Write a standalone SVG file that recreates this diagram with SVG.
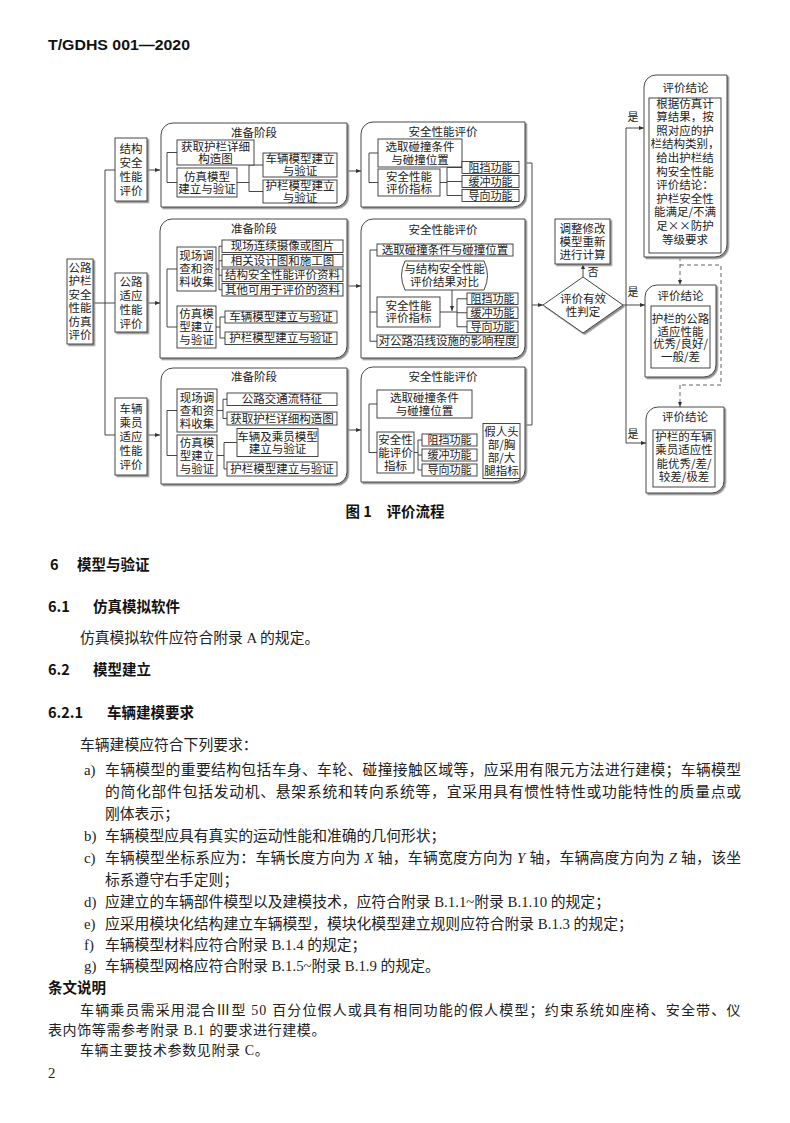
<svg xmlns="http://www.w3.org/2000/svg" width="790" height="1123" viewBox="0 0 790 1123">
<defs>
<style>
.bx{fill:#fff;stroke:#333;stroke-width:0.9;filter:url(#sh)}
.ib{fill:#fff;stroke:#333;stroke-width:0.9}
.t{font-family:"Noto Sans CJK SC",sans-serif;font-size:11.5px;fill:#222;text-anchor:middle}
.s{font-size:11px}
.c{fill:none;stroke:#333;stroke-width:0.9}
.a{fill:none;stroke:#333;stroke-width:0.9;marker-end:url(#ar)}
.d{fill:none;stroke:#555;stroke-width:0.9;stroke-dasharray:4 3}
.da{fill:none;stroke:#555;stroke-width:0.9;stroke-dasharray:4 3;marker-end:url(#ar)}
.h{font-family:"Noto Sans CJK SC",sans-serif;font-weight:bold;font-size:14.5px;fill:#111}
.b{font-family:"Liberation Serif","Noto Sans CJK SC",serif;font-size:14.8px;fill:#222}
.n{font-size:14px;letter-spacing:0.6px}
</style>
<filter id="sh" x="-10%" y="-10%" width="130%" height="130%">
<feDropShadow dx="1.6" dy="1.6" stdDeviation="0" flood-color="#8a8a8a" flood-opacity="1"/>
</filter>
<marker id="ar" viewBox="0 0 10 10" refX="10" refY="5" markerWidth="6" markerHeight="6" orient="auto">
<path d="M0,1 L10,5 L0,9 z" fill="#333"/>
</marker>
</defs>
<rect width="790" height="1123" fill="#fff"/>
<text x="48" y="50" font-family="Liberation Sans" font-weight="bold" font-size="14.5" fill="#111" textLength="142" lengthAdjust="spacingAndGlyphs">T/GDHS 001—2020</text>

<g id="connectors">
<path class="c" d="M93,303 H115 M105,170 V435 M105,170 H115 M105,435 H115"/>
<path class="a" d="M147,170 H160"/>
<path class="a" d="M147,303 H160"/>
<path class="a" d="M147,435 H160"/>
<path class="a" d="M347,171 H361"/>
<path class="a" d="M347,286 H361"/>
<path class="a" d="M347,430 H361"/>
<path class="c" d="M525,163 H532 V425 H525"/>
<path class="a" d="M532,305 H543"/>
<path class="a" d="M583,277 V264"/>
<path class="c" d="M623,305 H626 M626,128 V443"/>
<path class="a" d="M626,128 H644"/>
<path class="a" d="M626,305 H645"/>
<path class="a" d="M626,443 H646"/>
<path class="da" d="M680,257 V285"/>
<path class="d" d="M680,265 H721 V385 H680"/>
<path class="da" d="M680,385 V407"/>
</g>

<g id="n-root">
<rect class="bx" x="67" y="259" width="26" height="85"/>
<text class="t" x="80" y="271.5"><tspan x="80">公路</tspan><tspan x="80" dy="13.5">护栏</tspan><tspan x="80" dy="13.5">安全</tspan><tspan x="80" dy="13.5">性能</tspan><tspan x="80" dy="13.5">仿真</tspan><tspan x="80" dy="13.5">评价</tspan></text>
</g>

<g id="n-a1">
<rect class="bx" x="115" y="138" width="32" height="63"/>
<text class="t" x="131" y="152.5"><tspan x="131">结构</tspan><tspan x="131" dy="14">安全</tspan><tspan x="131" dy="14">性能</tspan><tspan x="131" dy="14">评价</tspan></text>
</g>
<g id="n-a2">
<rect class="bx" x="115" y="273" width="32" height="59"/>
<text class="t" x="131" y="285.5"><tspan x="131">公路</tspan><tspan x="131" dy="14">适应</tspan><tspan x="131" dy="14">性能</tspan><tspan x="131" dy="14">评价</tspan></text>
</g>
<g id="n-a3">
<rect class="bx" x="115" y="398" width="32" height="77"/>
<text class="t" x="131" y="412.5"><tspan x="131">车辆</tspan><tspan x="131" dy="14">乘员</tspan><tspan x="131" dy="14">适应</tspan><tspan x="131" dy="14">性能</tspan><tspan x="131" dy="14">评价</tspan></text>
</g>

<g id="n-p1">
<path class="bx" d="M161,135 A12,12 0 0 1 173,123 H347 V195 A12,12 0 0 1 335,207 H161 Z"/>
<text class="t" x="254" y="137">准备阶段</text>
<path class="c" d="M177,152.5 H167 V182.5 H177 M237,182.5 H249 M249,165 V191.5 M249,165 H263 M249,191.5 H263"/>
<rect class="ib" x="177" y="140" width="77" height="25"/>
<text class="t" x="215.5" y="150.5"><tspan x="215.5">获取护栏详细</tspan><tspan x="215.5" dy="12.5">构造图</tspan></text>
<rect class="ib" x="177" y="168" width="60" height="29"/>
<text class="t" x="207" y="180.5"><tspan x="207">仿真模型</tspan><tspan x="207" dy="12.5">建立与验证</tspan></text>
<rect class="ib" x="263" y="153" width="74" height="24"/>
<text class="t" x="300" y="163"><tspan x="300">车辆模型建立</tspan><tspan x="300" dy="12">与验证</tspan></text>
<rect class="ib" x="263" y="180" width="74" height="23"/>
<text class="t" x="300" y="189.5"><tspan x="300">护栏模型建立</tspan><tspan x="300" dy="12">与验证</tspan></text>
</g>

<g id="n-s1">
<path class="bx" d="M361,134 A12,12 0 0 1 373,122 H525 V195 A12,12 0 0 1 513,207 H361 Z"/>
<text class="t" x="443" y="136">安全性能评价</text>
<path class="c" d="M378,153 H369 V182.5 H378 M440,182.5 H447 M447,167.5 V195.5 M447,167.5 H462 M447,181.5 H462 M447,195.5 H462"/>
<rect class="ib" x="378" y="139" width="84" height="28"/>
<text class="t" x="420" y="151"><tspan x="420">选取碰撞条件</tspan><tspan x="420" dy="12.5">与碰撞位置</tspan></text>
<rect class="ib" x="378" y="169" width="62" height="27"/>
<text class="t" x="409" y="180.5"><tspan x="409">安全性能</tspan><tspan x="409" dy="12.5">评价指标</tspan></text>
<rect class="ib" x="462" y="161.5" width="57" height="12"/>
<text class="t s" x="490.5" y="171.5">阻挡功能</text>
<rect class="ib" x="462" y="175.5" width="57" height="12"/>
<text class="t s" x="490.5" y="185.5">缓冲功能</text>
<rect class="ib" x="462" y="189.5" width="57" height="12"/>
<text class="t s" x="490.5" y="199.5">导向功能</text>
</g>

<g id="n-p2">
<path class="bx" d="M160,231 A12,12 0 0 1 172,219 H347 V346 A12,12 0 0 1 335,358 H160 Z"/>
<text class="t" x="254" y="233">准备阶段</text>
<path class="c" d="M177,269 H167 V327 H177 M216,269 H219 M219,246.25 V289.75 M219,246.25 H222 M219,260.75 H222 M219,275.25 H222 M219,289.75 H222 M216,327 H220 M220,317 V338 M220,317 H225 M220,338 H225"/>
<rect class="ib" x="177" y="247" width="39" height="44"/>
<text class="t" x="196.5" y="260"><tspan x="196.5">现场调</tspan><tspan x="196.5" dy="13">查和资</tspan><tspan x="196.5" dy="13">料收集</tspan></text>
<rect class="ib" x="222" y="240" width="121" height="12.5"/>
<text class="t" x="282.5" y="250.3">现场连续摄像或图片</text>
<rect class="ib" x="222" y="254.5" width="121" height="12.5"/>
<text class="t" x="282.5" y="264.8">相关设计图和施工图</text>
<rect class="ib" x="222" y="269" width="121" height="12.5"/>
<text class="t" x="282.5" y="279.3">结构安全性能评价资料</text>
<rect class="ib" x="222" y="283.5" width="121" height="12.5"/>
<text class="t" x="282.5" y="293.8">其他可用于评价的资料</text>
<rect class="ib" x="177" y="306" width="39" height="42"/>
<text class="t" x="196.5" y="318"><tspan x="196.5">仿真模</tspan><tspan x="196.5" dy="13">型建立</tspan><tspan x="196.5" dy="13">与验证</tspan></text>
<rect class="ib" x="225" y="311" width="112" height="12"/>
<text class="t" x="281" y="321">车辆模型建立与验证</text>
<rect class="ib" x="225" y="332" width="112" height="12.5"/>
<text class="t" x="281" y="342.3">护栏模型建立与验证</text>
</g>

<g id="n-s2">
<path class="bx" d="M361,231 A12,12 0 0 1 373,219 H525 V346 A12,12 0 0 1 513,358 H361 Z"/>
<text class="t" x="443" y="234">安全性能评价</text>
<path class="c" d="M377,250 H370 V341.25 H377 M370,312 H377 M440,312 H457 M457,298.75 V326.75 M457,298.75 H467 M457,312.75 H467 M457,326.75 H467"/>
<path class="a" d="M452,290 V311"/>
<rect class="ib" x="377" y="244" width="136" height="12"/>
<text class="t" x="445" y="254">选取碰撞条件与碰撞位置</text>
<path class="ib" d="M405,261 H484 Q491,275.5 484,290 H405 Q398,275.5 405,261 Z"/>
<text class="t" x="444.5" y="273"><tspan x="444.5">与结构安全性能</tspan><tspan x="444.5" dy="12.5">评价结果对比</tspan></text>
<rect class="ib" x="377" y="297" width="63" height="30"/>
<text class="t" x="408.5" y="309.5"><tspan x="408.5">安全性能</tspan><tspan x="408.5" dy="12.5">评价指标</tspan></text>
<rect class="ib" x="467" y="293" width="51" height="11.5"/>
<text class="t s" x="492.5" y="302.6">阻挡功能</text>
<rect class="ib" x="467" y="307" width="51" height="11.5"/>
<text class="t s" x="492.5" y="316.6">缓冲功能</text>
<rect class="ib" x="467" y="321" width="51" height="11.5"/>
<text class="t s" x="492.5" y="330.6">导向功能</text>
<rect class="ib" x="377" y="335" width="141" height="12.5"/>
<text class="t" x="447.5" y="345.3">对公路沿线设施的影响程度</text>
</g>

<g id="n-p3">
<path class="bx" d="M161,380 A12,12 0 0 1 173,368 H347 V472 A12,12 0 0 1 335,484 H161 Z"/>
<text class="t" x="254" y="381">准备阶段</text>
<path class="c" d="M177,410.5 H167 V455.5 H177 M217,410.5 H223 M223,399.25 V418.5 M223,399.25 H227 M223,418.5 H227 M217,455.5 H224 M224,442.5 V469 M224,442.5 H237 M224,469 H227"/>
<rect class="ib" x="177" y="389" width="40" height="43"/>
<text class="t" x="197" y="401.5"><tspan x="197">现场调</tspan><tspan x="197" dy="13">查和资</tspan><tspan x="197" dy="13">料收集</tspan></text>
<rect class="ib" x="227" y="393" width="110" height="12.5"/>
<text class="t" x="282" y="403.3">公路交通流特征</text>
<rect class="ib" x="227" y="412" width="110" height="13"/>
<text class="t" x="282" y="422.5">获取护栏详细构造图</text>
<rect class="ib" x="177" y="435" width="40" height="41"/>
<text class="t" x="197" y="446.5"><tspan x="197">仿真模</tspan><tspan x="197" dy="13">型建立</tspan><tspan x="197" dy="13">与验证</tspan></text>
<rect class="ib" x="237" y="428.5" width="81" height="28"/>
<text class="t" x="277.5" y="440.5"><tspan x="277.5">车辆及乘员模型</tspan><tspan x="277.5" dy="12.5">建立与验证</tspan></text>
<rect class="ib" x="227" y="462" width="110" height="14"/>
<text class="t" x="282" y="473">护栏模型建立与验证</text>
</g>

<g id="n-s3">
<path class="bx" d="M361,379 A12,12 0 0 1 373,367 H525 V470 A12,12 0 0 1 513,482 H361 Z"/>
<text class="t" x="443" y="380.5">安全性能评价</text>
<path class="c" d="M377,404 H369 V452.5 H377 M414,452.5 H418 M418,440 V470 M418,440 H422 M418,455 H422 M418,470 H422"/>
<rect class="ib" x="377" y="390" width="95" height="28"/>
<text class="t" x="424.5" y="402"><tspan x="424.5">选取碰撞条件</tspan><tspan x="424.5" dy="12.5">与碰撞位置</tspan></text>
<rect class="ib" x="377" y="432" width="37" height="41"/>
<text class="t" x="395.5" y="443.5"><tspan x="395.5">安全性</tspan><tspan x="395.5" dy="13">能评价</tspan><tspan x="395.5" dy="13">指标</tspan></text>
<rect class="ib" x="422" y="434" width="55" height="12"/>
<text class="t s" x="449.5" y="444">阻挡功能</text>
<rect class="ib" x="422" y="449" width="55" height="12"/>
<text class="t s" x="449.5" y="459">缓冲功能</text>
<rect class="ib" x="422" y="464" width="55" height="12"/>
<text class="t s" x="449.5" y="474">导向功能</text>
<rect class="ib" x="483" y="423.5" width="37" height="55"/>
<text class="t" x="501.5" y="435.5"><tspan x="501.5">假人头</tspan><tspan x="501.5" dy="13">部/胸</tspan><tspan x="501.5" dy="13">部/大</tspan><tspan x="501.5" dy="13">腿指标</tspan></text>
</g>

<g id="n-diamond">
<polygon class="bx" points="543,305 583,277 623,305 583,333"/>
<text class="t" x="583" y="303"><tspan x="583">评价有效</tspan><tspan x="583" dy="12.5">性判定</tspan></text>
</g>
<g id="n-adjust">
<rect class="bx" x="555" y="219" width="55" height="45"/>
<text class="t" x="582.5" y="232.5"><tspan x="582.5">调整修改</tspan><tspan x="582.5" dy="13">模型重新</tspan><tspan x="582.5" dy="13">进行计算</tspan></text>
</g>
<g id="labels">
<text class="t s" x="593" y="276">否</text>
<text class="t s" x="633" y="121">是</text>
<text class="t s" x="633" y="296">是</text>
<text class="t s" x="633" y="438">是</text>
</g>

<g id="n-r1">
<path class="bx" d="M644,87 A12,12 0 0 1 656,75 H727 V245 A12,12 0 0 1 715,257 H644 Z"/>
<text class="t" x="685.5" y="91.5">评价结论</text>
<rect class="ib" x="649" y="98" width="72" height="155"/>
<text class="t" x="685" y="107.5"><tspan x="685">根据仿真计</tspan><tspan x="685" dy="13.6">算结果，按</tspan><tspan x="685" dy="13.6">照对应的护</tspan><tspan x="685" dy="13.6">栏结构类别，</tspan><tspan x="685" dy="13.6">给出护栏结</tspan><tspan x="685" dy="13.6">构安全性能</tspan><tspan x="685" dy="13.6">评价结论：</tspan><tspan x="685" dy="13.6">护栏安全性</tspan><tspan x="685" dy="13.6">能满足/不满</tspan><tspan x="685" dy="13.6">足××防护</tspan><tspan x="685" dy="13.6">等级要求</tspan></text>
</g>
<g id="n-r2">
<path class="bx" d="M645,297 A12,12 0 0 1 657,285 H716 V365 A12,12 0 0 1 704,377 H645 Z"/>
<text class="t" x="680.5" y="299.5">评价结论</text>
<rect class="ib" x="651" y="306" width="59" height="62"/>
<text class="t" x="680.5" y="323"><tspan x="680.5">护栏的公路</tspan><tspan x="680.5" dy="12.6">适应性能</tspan><tspan x="680.5" dy="12.6">优秀/良好/</tspan><tspan x="680.5" dy="12.6">一般/差</tspan></text>
</g>
<g id="n-r3">
<path class="bx" d="M646,419 A12,12 0 0 1 658,407 H724 V481 A12,12 0 0 1 712,493 H646 Z"/>
<text class="t" x="685" y="421">评价结论</text>
<rect class="ib" x="653" y="430" width="62" height="57"/>
<text class="t" x="684" y="441"><tspan x="684">护栏的车辆</tspan><tspan x="684" dy="13.3">乘员适应性</tspan><tspan x="684" dy="13.3">能优秀/差/</tspan><tspan x="684" dy="13.3">较差/极差</tspan></text>
</g>

<text class="h" x="395" y="517" text-anchor="middle" font-size="13.5">图 1　评价流程</text>

<g id="body">
<text class="h" x="50" y="570">6</text><text class="h" x="77" y="570">模型与验证</text>
<text class="h" x="48" y="612">6.1</text><text class="h" x="93" y="612">仿真模拟软件</text>
<text class="b" x="80" y="643">仿真模拟软件应符合附录 A 的规定。</text>
<text class="h" x="48" y="675">6.2</text><text class="h" x="93" y="675">模型建立</text>
<text class="h" x="48" y="718">6.2.1</text><text class="h" x="107" y="718">车辆建模要求</text>
<text class="b" x="80" y="750">车辆建模应符合下列要求：</text>
<text class="b" x="84" y="775">a)</text>
<text class="b" x="105" y="775" textLength="636" lengthAdjust="spacing">车辆模型的重要结构包括车身、车轮、碰撞接触区域等，应采用有限元方法进行建模；车辆模型</text>
<text class="b" x="105" y="797" textLength="636" lengthAdjust="spacing">的简化部件包括发动机、悬架系统和转向系统等，宜采用具有惯性特性或功能特性的质量点或</text>
<text class="b" x="105" y="819">刚体表示；</text>
<text class="b" x="84" y="841">b)</text>
<text class="b" x="105" y="841">车辆模型应具有真实的运动性能和准确的几何形状；</text>
<text class="b" x="84" y="863">c)</text>
<text class="b" x="105" y="863" textLength="636" lengthAdjust="spacing">车辆模型坐标系应为：车辆长度方向为 <tspan font-style="italic">X</tspan> 轴，车辆宽度方向为 <tspan font-style="italic">Y</tspan> 轴，车辆高度方向为 <tspan font-style="italic">Z</tspan> 轴，该坐</text>
<text class="b" x="105" y="885">标系遵守右手定则；</text>
<text class="b" x="84" y="907">d)</text>
<text class="b" x="105" y="907">应建立的车辆部件模型以及建模技术，应符合附录 B.1.1~附录 B.1.10 的规定；</text>
<text class="b" x="84" y="929">e)</text>
<text class="b" x="105" y="929">应采用模块化结构建立车辆模型，模块化模型建立规则应符合附录 B.1.3 的规定；</text>
<text class="b" x="84" y="950">f)</text>
<text class="b" x="105" y="950">车辆模型材料应符合附录 B.1.4 的规定；</text>
<text class="b" x="84" y="971">g)</text>
<text class="b" x="105" y="971">车辆模型网格应符合附录 B.1.5~附录 B.1.9 的规定。</text>
<text class="h" x="48" y="993" font-size="15">条文说明</text>
<text class="b n" x="80" y="1015" textLength="661" lengthAdjust="spacing">车辆乘员需采用混合Ⅲ型 50 百分位假人或具有相同功能的假人模型；约束系统如座椅、安全带、仪</text>
<text class="b n" x="48" y="1035">表内饰等需参考附录 B.1 的要求进行建模。</text>
<text class="b n" x="80" y="1055">车辆主要技术参数见附录 C。</text>
<text class="b" x="48" y="1078">2</text>
</g>
</svg>
